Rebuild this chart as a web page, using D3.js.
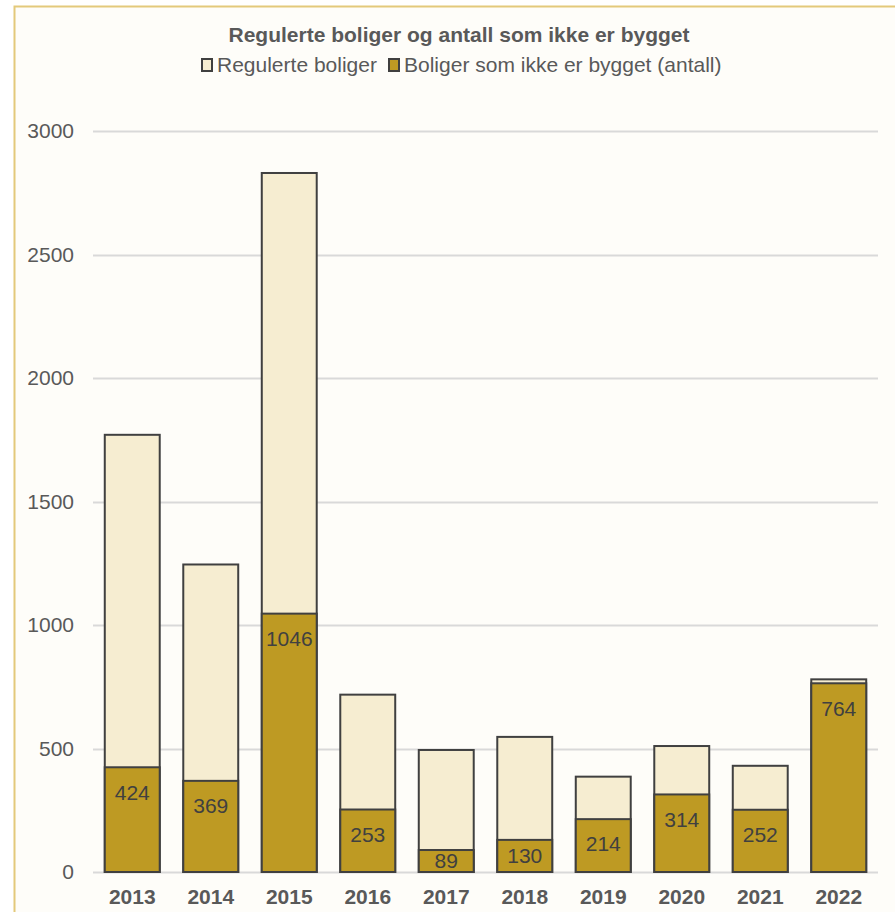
<!DOCTYPE html>
<html>
<head>
<meta charset="utf-8">
<script src="https://cdn.jsdelivr.net/npm/d3@7"></script>
<style>
  body { margin: 0; background: #fff; }
  svg { display: block; font-family: "Liberation Sans", Arial, sans-serif; }
</style>
</head>
<body>
<div id="chart"></div>
<script>
// chart data
const years = ["2013", "2014", "2015", "2016", "2017", "2018", "2019", "2020", "2021", "2022"];
const regulerte = [1770, 1245, 2830, 718, 494, 547, 386, 510, 430, 780];
const ikkeBygget = [424, 369, 1046, 253, 89, 130, 214, 314, 252, 764];
const yTicks = [0, 500, 1000, 1500, 2000, 2500, 3000];
const seriesNames = ["Regulerte boliger", "Boliger som ikke er bygget (antall)"];

const width = 895, height = 912;
const margin = { top: 131, right: 17, bottom: 40, left: 93 };
const lightFill = "#F6EDD1", darkFill = "#BE9A23", edge = "#404040", textCol = "#595959";
const fontSize = 21;

const svg = d3.select("#chart")
  .append("svg")
  .attr("width", width)
  .attr("height", height);

// chart area background and border
svg.append("rect")
  .attr("x", 14.5).attr("y", 6.5)
  .attr("width", width + 20).attr("height", height + 20)
  .attr("fill", "#FEFDF9")
  .attr("stroke", "#E3C97B")
  .attr("stroke-width", 2);

const x = d3.scaleBand()
  .domain(years)
  .range([margin.left, width - margin.right])
  .paddingInner(0.3)
  .paddingOuter(0.15);

const y = d3.scaleLinear()
  .domain([0, 3000])
  .range([872, margin.top]);

// gridlines
svg.append("g")
  .selectAll("line")
  .data(yTicks)
  .join("line")
  .attr("x1", margin.left)
  .attr("x2", width - margin.right)
  .attr("y1", d => Math.round(y(d)) + 0.5)
  .attr("y2", d => Math.round(y(d)) + 0.5)
  .attr("stroke", "#D9D9D9")
  .attr("stroke-width", 2);

// y axis labels
const yAxis = svg.append("g")
  .attr("transform", `translate(${margin.left - 19}, 0)`)
  .call(d3.axisLeft(y).tickValues(yTicks).tickFormat(d3.format("d")).tickSize(0).tickPadding(0));
yAxis.select(".domain").remove();
yAxis.selectAll("text")
  .attr("font-size", fontSize)
  .attr("fill", textCol)
  .attr("font-family", "Liberation Sans, Arial, sans-serif");

// x axis labels
const xAxis = svg.append("g")
  .attr("transform", `translate(0, ${y(0) + 17})`)
  .call(d3.axisBottom(x).tickSize(0).tickPadding(0));
xAxis.select(".domain").remove();
xAxis.selectAll("text")
  .attr("font-size", fontSize)
  .attr("font-weight", "bold")
  .attr("fill", textCol)
  .attr("font-family", "Liberation Sans, Arial, sans-serif");

// bars: the total is drawn first, the unbuilt count overlaps it
svg.append("g")
  .selectAll("rect")
  .data(years)
  .join("rect")
  .attr("x", d => x(d))
  .attr("width", x.bandwidth())
  .attr("y", (d, i) => y(regulerte[i]))
  .attr("height", (d, i) => y(0) - y(regulerte[i]))
  .attr("fill", lightFill)
  .attr("stroke", edge)
  .attr("stroke-width", 2);

svg.append("g")
  .selectAll("rect")
  .data(years)
  .join("rect")
  .attr("x", d => x(d))
  .attr("width", x.bandwidth())
  .attr("y", (d, i) => y(ikkeBygget[i]))
  .attr("height", (d, i) => y(0) - y(ikkeBygget[i]))
  .attr("fill", darkFill)
  .attr("stroke", edge)
  .attr("stroke-width", 2);

// data labels, inside end (centred when the bar is short)
svg.append("g")
  .selectAll("text")
  .data(years)
  .join("text")
  .attr("x", d => x(d) + x.bandwidth() / 2)
  .attr("y", (d, i) => {
    const top = y(ikkeBygget[i]);
    return Math.min(top + 25, (top + y(0)) / 2);
  })
  .attr("dy", "0.35em")
  .attr("text-anchor", "middle")
  .attr("font-size", fontSize)
  .attr("fill", "#404040")
  .text((d, i) => ikkeBygget[i]);

// title
svg.append("text")
  .attr("x", 459)
  .attr("y", 42)
  .attr("text-anchor", "middle")
  .attr("font-size", fontSize)
  .attr("font-weight", "bold")
  .attr("fill", textCol)
  .text("Regulerte boliger og antall som ikke er bygget");

// legend
const legend = svg.append("g").attr("transform", "translate(0, 65)");
const legendX = [202, 389];
legend.selectAll("rect")
  .data(seriesNames)
  .join("rect")
  .attr("x", (d, i) => legendX[i])
  .attr("y", -6)
  .attr("width", 10)
  .attr("height", 12)
  .attr("fill", (d, i) => i === 0 ? lightFill : darkFill)
  .attr("stroke", edge)
  .attr("stroke-width", 2);
legend.selectAll("text")
  .data(seriesNames)
  .join("text")
  .attr("x", (d, i) => legendX[i] + 15)
  .attr("y", 0)
  .attr("dy", "0.35em")
  .attr("font-size", fontSize)
  .attr("fill", textCol)
  .text(d => d);
</script>
</body>
</html>
